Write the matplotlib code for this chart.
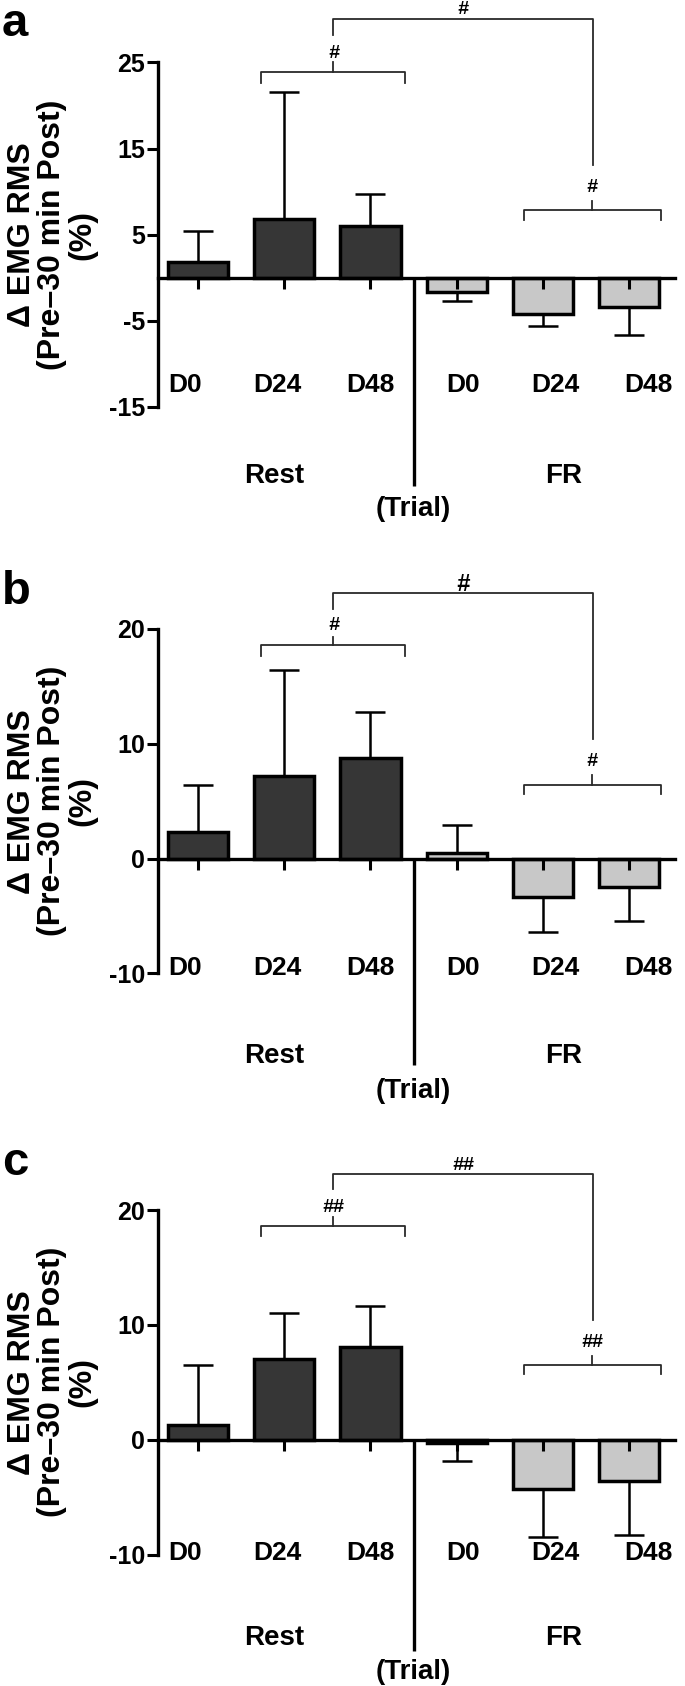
import numpy as np
import matplotlib.pyplot as plt

plt.rcParams['font.family'] = ['Liberation Sans', 'DejaVu Sans']
plt.rcParams['font.weight'] = 'bold'
plt.rcParams['axes.unicode_minus'] = False

# 数据：Rest D0/D24/D48，然后 FR D0/D24/D48
days = ['D0', 'D24', 'D48', 'D0', 'D24', 'D48']
groups = ['Rest', 'FR']

mean_a = [1.8, 6.8, 6.0, -1.7, -4.2, -3.4]
sd_a = [3.6, 14.8, 3.7, 1.0, 1.4, 3.2]
mean_b = [2.3, 7.2, 8.8, 0.5, -3.3, -2.5]
sd_b = [4.1, 9.2, 4.0, 2.4, 3.1, 2.9]
mean_c = [1.3, 7.0, 8.1, -0.3, -4.3, -3.6]
sd_c = [5.2, 4.0, 3.5, 1.6, 4.2, 4.7]

sig_a = ['#', '#', '#']
sig_b = ['#', '#', '#']
sig_c = ['##', '##', '##']

yticks_a = [-15, -5, 5, 15, 25]
yticks_bc = [-10, 0, 10, 20]

W, H = 685, 1686
fig = plt.figure(figsize=(W / 100, H / 100), dpi=100)

dark = '#363636'
light = '#c8c8c8'
colors = [dark] * 3 + [light] * 3

panels = [
    dict(letter='a', mean=mean_a, sd=sd_a, sig=sig_a, top=62.5, ylim=(-15, 25), yticks=yticks_a,
         day_y=-12.5, grp_y=-23.0, trial_y=-26.9, line_y=-24.2, base=36,
         rest=(23.9, 22.6, 25.0, 26.1), big=(30.1, 28.2, 13.1, 31.2), fr=(7.9, 6.7, 8.9, 10.5), big_fs=14),
    dict(letter='b', mean=mean_b, sd=sd_b, sig=sig_b, top=629, ylim=(-10, 20), yticks=yticks_bc,
         day_y=-9.5, grp_y=-17.2, trial_y=-20.2, line_y=-18.0, base=604,
         rest=(18.6, 17.65, 19.3, 20.3), big=(23.1, 21.7, 10.4, 23.9), fr=(6.4, 5.65, 7.3, 8.5), big_fs=17),
    dict(letter='c', mean=mean_c, sd=sd_c, sig=sig_c, top=1210, ylim=(-10, 20), yticks=yticks_bc,
         day_y=-9.9, grp_y=-17.3, trial_y=-20.2, line_y=-18.4, base=1175,
         rest=(18.6, 17.7, 19.4, 20.2), big=(23.1, 21.8, 10.4, 23.9), fr=(6.5, 5.7, 7.3, 8.45), big_fs=14),
]

left_px, right_px, ax_h = 158, 675, 344.5
x = np.arange(len(days))
label_x = np.linspace(-0.15, 5.22, len(days))

for p in panels:
    ax = fig.add_axes([left_px / W, 1 - (p['top'] + ax_h) / H, (right_px - left_px) / W, ax_h / H])
    m = np.array(p['mean'])
    s = np.array(p['sd'])
    lower = np.where(m < 0, s, 0)
    upper = np.where(m >= 0, s, 0)
    ax.errorbar(x, m, yerr=[lower, upper], fmt='none', ecolor='black', elinewidth=1.8,
                capsize=11, capthick=1.8, zorder=0.9)
    ax.bar(x, m, width=0.7, color=colors, edgecolor='black', linewidth=2.5, zorder=1)

    ax.set_xlim(-0.463, 5.53)
    ax.set_ylim(*p['ylim'])
    ax.set_yticks(p['yticks'])
    ax.set_xticks(x)
    ax.set_xticklabels([])
    for side in ['top', 'right']:
        ax.spines[side].set_visible(False)
    ax.spines['bottom'].set_position(('data', 0))
    ax.spines['left'].set_linewidth(2.4)
    ax.spines['bottom'].set_linewidth(2.4)
    ax.tick_params(axis='y', direction='out', length=8, width=2.2, pad=1.5, labelsize=18)
    ax.tick_params(axis='x', direction='out', length=8, width=2.2)
    for lab in ax.get_yticklabels():
        lab.set_fontweight('bold')

    # 类别标签
    for lx, d in zip(label_x, days):
        ax.text(lx, p['day_y'], d, ha='center', va='center', fontsize=19)
    ax.text(0.88, p['grp_y'], groups[0], ha='center', va='center', fontsize=20, clip_on=False)
    ax.text(4.24, p['grp_y'], groups[1], ha='center', va='center', fontsize=20, clip_on=False)
    ax.text(2.5, p['trial_y'], '(Trial)', ha='center', va='center', fontsize=20, clip_on=False)
    ax.plot([2.5, 2.5], [0, p['line_y']], color='black', lw=2.4, clip_on=False, solid_capstyle='butt')

    # 显著性括号
    bc = '#2a2a2a'
    y, ye, yt, ys = p['rest']
    ax.plot([0.73, 0.73, 2.40, 2.40], [ye, y, y, ye], color=bc, lw=1.3, clip_on=False)
    ax.plot([1.57, 1.57], [y, yt], color=bc, lw=1.3, clip_on=False)
    ax.text(1.57, ys, p['sig'][0], ha='center', va='center', fontsize=14, fontstyle='italic', clip_on=False)
    y, ye, yt, ys = p['fr']
    ax.plot([3.78, 3.78, 5.37, 5.37], [ye, y, y, ye], color=bc, lw=1.3, clip_on=False)
    ax.plot([4.57, 4.57], [y, yt], color=bc, lw=1.3, clip_on=False)
    ax.text(4.57, ys, p['sig'][2], ha='center', va='center', fontsize=14, fontstyle='italic', clip_on=False)
    y, yl, yr, ys = p['big']
    ax.plot([1.57, 1.57, 4.58, 4.58], [yl, y, y, yr], color=bc, lw=1.3, clip_on=False)
    ax.text(3.07, ys, p['sig'][1], ha='center', va='center', fontsize=p['big_fs'], fontstyle='italic', clip_on=False)

    ax.text(-0.205, 0.5, 'Δ EMG RMS\n(Pre–30 min Post)\n(%)', transform=ax.transAxes, rotation=90,
            ha='center', va='center', multialignment='center', fontsize=23, linespacing=1.0)
    fig.text(2 / W, 1 - p['base'] / H, p['letter'], fontsize=34, fontweight='bold', va='baseline')

fig.savefig('out.png', dpi=100)
